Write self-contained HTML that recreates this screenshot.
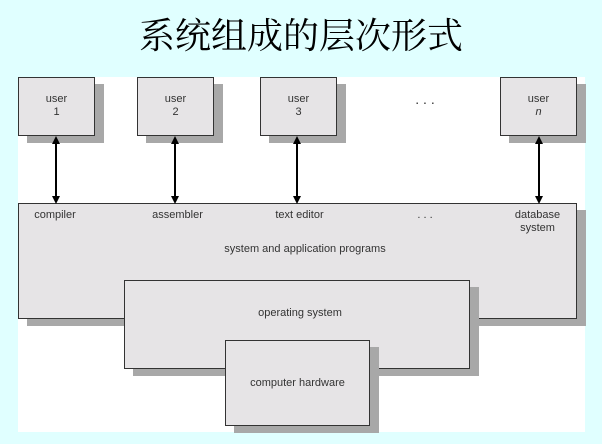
<!DOCTYPE html>
<html><head><meta charset="utf-8"><style>
body{margin:0;width:602px;height:444px;background:#e0ffff;position:relative;overflow:hidden;font-family:"Liberation Sans",sans-serif;}
.t{position:absolute;left:0;width:602px;top:12px;text-align:center;font-family:"Liberation Serif","Noto Serif CJK SC",serif;font-size:36px;color:#000;line-height:48px;}
.panel{position:absolute;left:18px;top:77px;width:567px;height:355px;background:#fff;}
.b{position:absolute;background:#e6e4e6;border:1.5px solid #333;box-sizing:border-box;box-shadow:9px 7px 0 #a8a8a8;}
.l{position:absolute;font-size:11px;color:#333;text-align:center;line-height:13px;}
</style></head><body>
<div class="t">系统组成的层次形式</div>
<div class="panel"></div>
<div class="b" style="left:18px;top:203px;width:559px;height:116px;"></div>
<div class="b" style="left:124px;top:280px;width:346px;height:89px;"></div>
<div class="b" style="left:225px;top:340px;width:145px;height:86px;"></div>
<div class="b" style="left:18px;top:77px;width:77px;height:59px;"></div>
<div class="b" style="left:137px;top:77px;width:77px;height:59px;"></div>
<div class="b" style="left:260px;top:77px;width:77px;height:59px;"></div>
<div class="b" style="left:500px;top:77px;width:77px;height:59px;"></div>
<div class="l" style="left:18px;top:93px;width:77px">user<br>1</div>
<div class="l" style="left:137px;top:93px;width:77px">user<br>2</div>
<div class="l" style="left:260px;top:93px;width:77px">user<br>3</div>
<div class="l" style="left:500px;top:93px;width:77px">user<br><i>n</i></div>
<div class="l" style="left:395px;top:93px;width:60px;font-size:14px">. . .</div>
<svg style="position:absolute;left:0;top:0" width="602" height="444">
<defs><marker id="a" markerWidth="8" markerHeight="8" refX="4" refY="4" orient="auto-start-reverse" markerUnits="userSpaceOnUse"><path d="M0,0 L8,4 L0,8z" fill="#000"/></marker></defs>
<g stroke="#000" stroke-width="2" marker-start="url(#a)" marker-end="url(#a)">
<line x1="56" y1="140" x2="56" y2="200"/><line x1="175" y1="140" x2="175" y2="200"/>
<line x1="297" y1="140" x2="297" y2="200"/><line x1="539" y1="140" x2="539" y2="200"/>
</g></svg>
<div class="l" style="left:20px;top:209px;width:70px">compiler</div>
<div class="l" style="left:140px;top:209px;width:75px">assembler</div>
<div class="l" style="left:262px;top:209px;width:75px">text editor</div>
<div class="l" style="left:395px;top:209px;width:60px">. . .</div>
<div class="l" style="left:505px;top:209px;width:65px">database<br>system</div>
<div class="l" style="left:180px;top:243px;width:250px">system and application programs</div>
<div class="l" style="left:200px;top:307px;width:200px">operating system</div>
<div class="l" style="left:225px;top:377px;width:145px">computer hardware</div>
</body></html>
